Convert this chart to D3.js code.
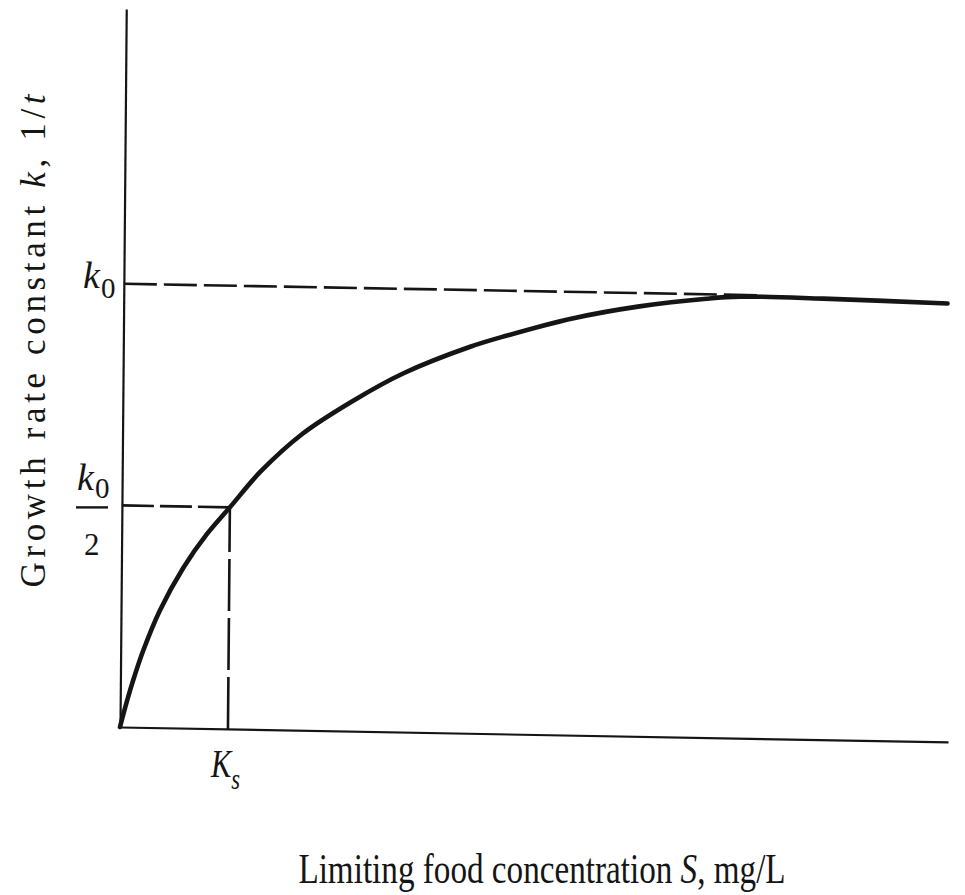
<!DOCTYPE html>
<html>
<head>
<meta charset="utf-8">
<script src="https://cdnjs.cloudflare.com/ajax/libs/d3/7.8.5/d3.min.js"></script>
<style>
    html, body { margin: 0; padding: 0; background: #fff; }
    svg { display: block; font-family: "Liberation Serif", "DejaVu Serif", serif; }
</style>
</head>
<body>
<svg id="chart"></svg>
<script>
// Substrate concentration S (in units of Ks) and growth rate k (in units of k0)
const sValues = [0, 0.046, 0.111, 0.204, 0.361, 0.574, 0.787, 1.0, 1.278, 1.667, 2.130, 2.593, 3.213, 3.556, 4.157, 4.778, 5.398, 5.704, 6.481, 7.630];
const kValues = [0, 0.044, 0.100, 0.170, 0.265, 0.362, 0.438, 0.5, 0.581, 0.669, 0.745, 0.809, 0.872, 0.899, 0.940, 0.970, 0.990, 0.996, 0.995, 0.989];

// reference values marked on the axes
const ksValue = 1;
const k0Value = 1;
const k0HalfValue = 0.5;
const k0LineEnd = 5.9;

// axis extents
const sMax = 7.67;
const kMax = 1.62;

// axis texts
const xLabel = ['Limiting food concentration ', 'S', ', mg/L'];
const yLabel = ['Growth rate constant ', 'k', ', 1/', 't'];

document.addEventListener('DOMContentLoaded', () => {
    const width = 965;
    const height = 895;
    const origin = {x: 120, y: 727};
    const ink = '#151515';

    const svg = d3.select('#chart')
        .attr('width', width)
        .attr('height', height);

    // scales in plot units (pixels from the origin)
    const x = d3.scaleLinear().domain([0, sMax]).range([0, 828]);
    const y = d3.scaleLinear().domain([0, kMax]).range([0, -718]);

    const g = svg.append('g')
        .attr('transform', `translate(${origin.x},${origin.y})`);

    // the printed figure is slightly skewed on the scan
    const plot = svg.append('g')
        .attr('transform', `matrix(1, 0.018, -0.0087, 1, ${origin.x}, ${origin.y})`);

    // axes: only the domain lines are drawn
    const xAxis = d3.axisBottom(x).tickValues([]).tickSizeOuter(0);
    const yAxis = d3.axisLeft(y).tickValues([]).tickSizeOuter(0);

    plot.append('g').attr('class', 'x axis').call(xAxis);
    plot.append('g').attr('class', 'y axis').call(yAxis);
    plot.selectAll('.axis .domain')
        .attr('stroke', ink)
        .attr('stroke-width', 2.2);

    // dashed guide lines
    const dashed = [
        {pts: [[0, k0Value], [k0LineEnd, k0Value]], dash: '33,7'},
        {pts: [[0, k0HalfValue], [ksValue, k0HalfValue]], dash: '32,6'},
        {pts: [[ksValue, 0], [ksValue, k0HalfValue]], dash: '52,7'}
    ];
    const guide = d3.line().x(d => x(d[0])).y(d => y(d[1]));
    plot.selectAll('.guide')
        .data(dashed)
        .enter().append('path')
        .attr('class', 'guide')
        .attr('d', d => guide(d.pts))
        .attr('fill', 'none')
        .attr('stroke', ink)
        .attr('stroke-width', 2.6)
        .attr('stroke-dasharray', d => d.dash);

    // growth curve
    const curve = d3.line()
        .x((d, i) => x(sValues[i]))
        .y(d => y(d))
        .curve(d3.curveCatmullRom.alpha(0.5));

    plot.append('path')
        .datum(kValues)
        .attr('d', curve)
        .attr('fill', 'none')
        .attr('stroke', ink)
        .attr('stroke-width', 4.6)
        .attr('stroke-linecap', 'round');

    // k0 label
    const k0 = g.append('text')
        .attr('x', -37)
        .attr('y', y(k0Value) + 4)
        .attr('fill', ink)
        .attr('font-size', 38)
        .attr('font-style', 'italic')
        .text('k');
    k0.append('tspan')
        .attr('font-style', 'normal')
        .attr('font-size', 29)
        .attr('dy', 10)
        .attr('dx', 1)
        .text('0');

    // k0 / 2 label
    const kh = g.append('text')
        .attr('x', -43)
        .attr('y', y(k0HalfValue) - 15)
        .attr('fill', ink)
        .attr('font-size', 38)
        .attr('font-style', 'italic')
        .text('k');
    kh.append('tspan')
        .attr('font-style', 'normal')
        .attr('font-size', 29)
        .attr('dy', 8)
        .attr('dx', 1)
        .text('0');
    g.append('line')
        .attr('x1', -44).attr('x2', -12)
        .attr('y1', y(k0HalfValue) + 2).attr('y2', y(k0HalfValue) + 2)
        .attr('stroke', ink)
        .attr('stroke-width', 2.4);
    g.append('text')
        .attr('x', -36)
        .attr('y', y(k0HalfValue) + 50)
        .attr('fill', ink)
        .attr('font-size', 31)
        .text('2');

    // Ks label
    const ks = g.append('text')
        .attr('transform', `translate(${x(ksValue) - 17},${50}) scale(0.78,1)`)
        .attr('fill', ink)
        .attr('font-size', 39)
        .attr('font-style', 'italic')
        .text('K');
    ks.append('tspan')
        .attr('font-size', 29)
        .attr('dy', 12)
        .text('s');

    // axis titles (the scan is a bit condensed horizontally)
    const xt = g.append('text')
        .attr('transform', 'translate(422,156) scale(0.79,1)')
        .attr('text-anchor', 'middle')
        .attr('fill', ink)
        .attr('font-size', 42);
    xt.selectAll('tspan')
        .data(xLabel)
        .enter().append('tspan')
        .attr('font-style', (d, i) => i === 1 ? 'italic' : 'normal')
        .text(d => d);

    const yt = g.append('text')
        .attr('transform', `translate(-75,${-386}) rotate(-90)`)
        .attr('text-anchor', 'middle')
        .attr('fill', ink)
        .attr('font-size', 35)
        .attr('textLength', 493)
        .attr('lengthAdjust', 'spacing');
    yt.selectAll('tspan')
        .data(yLabel)
        .enter().append('tspan')
        .attr('font-style', (d, i) => i % 2 === 1 ? 'italic' : 'normal')
        .text(d => d);
});
</script>
</body>
</html>
